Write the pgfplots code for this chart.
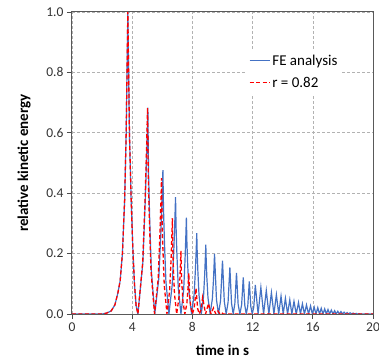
\documentclass[border=0pt]{standalone}
\usepackage{fontspec}
\setmainfont{Carlito}
\usepackage{pgfplots}
\pgfplotsset{compat=1.18}
\definecolor{feblue}{RGB}{68,114,196}
\definecolor{rred}{RGB}{255,0,0}
\begin{document}
\begin{tikzpicture}
\begin{axis}[name=ax,
  scale only axis, width=301bp, height=302bp,
  xmin=0, xmax=20, ymin=0, ymax=1,
  xtick={0,4,8,12,16,20},
  ytick={0,0.2,0.4,0.6,0.8,1.0},
  /pgf/number format/assume math mode=true,
  yticklabel style={/pgf/number format/.cd, fixed, fixed zerofill, precision=1},
  tick label style={font=\fontsize{13.5bp}{15bp}\selectfont, color=black!80},
  tick align=outside, tick pos=left,
  major tick length=5bp,
  tick style={black!70, line width=0.8bp},
  axis line style={black!65, line width=1bp},
  grid=major,
  major grid style={gray!60, dash pattern=on 3bp off 2bp, line width=0.6bp},
  xlabel={\textbf{time in s}},
  ylabel={\textbf{relative kinetic energy}},
  every axis x label/.style={at={(axis description cs:0.5,-0.119)}, anchor=center, font=\fontsize{15bp}{18bp}\selectfont},
  every axis y label/.style={at={(axis description cs:-0.159,0.5)}, rotate=90, anchor=center, font=\fontsize{15bp}{18bp}\selectfont},
  legend style={at={(0.581,0.875)}, anchor=north west, draw=none, fill=white,
    font=\fontsize{15bp}{18bp}\selectfont, inner xsep=2bp, inner ysep=3bp, row sep=6bp},
  legend cell align=left,
  legend image code/.code={\draw[#1] (0bp,0bp) -- (20bp,0bp);},
]
\addplot[feblue, line width=1.2bp] coordinates {
(0,0)(2.0,0)(2.3,0.003)(2.6,0.01)(2.85,0.03)(3.05,0.07)(3.2,0.11)(3.35,0.2)(3.5,0.38)(3.6,0.6)(3.71,1.0)
(3.82,0.59)(3.93,0.38)(4.04,0.22)(4.15,0.1)(4.26,0.027)(4.38,0)
(4.71,0.171)(4.875,0.384)(4.974,0.553)(5.04,0.683)
(5.086,0.470)(5.155,0.326)(5.27,0.145)(5.50,0)
(5.77,0.119)(5.905,0.268)(5.986,0.386)(6.04,0.476)
(6.08,0.349)(6.14,0.242)(6.24,0.108)(6.44,0)
(6.66,0.097)(6.77,0.218)(6.836,0.313)(6.88,0.387)
(6.916,0.286)(6.97,0.199)(7.06,0.088)(7.24,0)
(7.42,0.080)(7.51,0.179)(7.564,0.258)(7.60,0.319)
(7.635,0.238)(7.686,0.165)(7.77,0.074)(7.945,0)
(8.12,0.067)(8.204,0.151)(8.256,0.217)(8.29,0.268)
(8.32,0.202)(8.365,0.140)(8.44,0.062)(8.59,0)
(8.74,0.058)(8.815,0.129)(8.86,0.186)(8.89,0.230)
(8.92,0.174)(8.96,0.121)(9.035,0.054)(9.18,0)
(9.325,0.050)(9.40,0.112)(9.44,0.161)(9.47,0.199)
(9.60,0.047)(9.735,0)
(9.87,0.044)(10.00,0.177)
(10.12,0.041)(10.245,0)
(10.37,0.0385)(10.49,0.154)
(10.60,0.036)(10.71,0)
(10.82,0.034)(10.93,0.136)
(11.04,0.032)(11.155,0)
(11.27,0.030)(11.38,0.121)
(11.48,0.029)(11.58,0)
(11.68,0.027)(11.78,0.108)
(11.88,0.0255)(11.98,0)
(12.08,0.024)(12.18,0.096)
(12.365,0)(12.55,0.088)(12.73,0)(12.91,0.078)(13.08,0)(13.25,0.071)(13.415,0)(13.58,0.064)(13.735,0)(13.89,0.059)(14.035,0)(14.18,0.052)(14.325,0)(14.47,0.047)(14.61,0)(14.75,0.042)(14.90,0)(15.05,0.038)(15.18,0)(15.31,0.034)(15.445,0)(15.58,0.030)(15.715,0)(15.85,0.027)(15.97,0)(16.09,0.023)(16.21,0)(16.33,0.021)(16.445,0)(16.56,0.019)(16.675,0)(16.79,0.017)(16.90,0)(17.01,0.015)(17.12,0)(17.23,0.013)(17.34,0)(17.45,0.011)(17.555,0)(17.66,0.009)(17.765,0)(17.87,0.008)(17.975,0)(18.08,0.006)(18.18,0)(18.28,0.005)(18.38,0)(18.48,0.004)(18.58,0)(18.68,0.003)(18.78,0)(18.88,0.002)(18.98,0)(19.08,0.001)(19.18,0)(20,0)
};
\addlegendentry{FE analysis}
\addplot[rred, line width=1.3bp, dash pattern=on 4bp off 2.5bp] coordinates {
(0,0)(2.0,0)(2.3,0.003)(2.6,0.01)(2.85,0.03)(3.05,0.07)(3.2,0.11)(3.35,0.2)(3.5,0.38)(3.6,0.6)(3.71,1.0)
(3.82,0.59)(3.93,0.38)(4.04,0.22)(4.15,0.1)(4.26,0.027)(4.38,0)
(4.70,0.171)(4.86,0.384)(4.956,0.553)(5.02,0.683)
(5.067,0.459)(5.136,0.319)(5.25,0.142)(5.485,0)
(5.72,0.113)(5.834,0.253)(5.90,0.365)(5.95,0.45)
(5.986,0.311)(6.04,0.216)(6.13,0.096)(6.31,0)
(6.49,0.079)(6.58,0.178)(6.634,0.257)(6.67,0.317)
(6.70,0.213)(6.74,0.148)(6.81,0.066)(6.955,0)
(7.10,0.052)(7.17,0.118)(7.21,0.169)(7.24,0.209)
(7.266,0.139)(7.305,0.097)(7.37,0.043)(7.50,0)
(7.63,0.034)(7.695,0.076)(7.734,0.109)(7.76,0.135)
(7.82,0.062)(7.88,0.0275)(8.00,0)
(8.12,0.021)(8.18,0.048)(8.24,0.085)
(8.35,0.0175)(8.46,0)
(8.57,0.014)(8.68,0.055)
(8.875,0)(9.07,0.035)(9.235,0)(9.40,0.02)(9.55,0)(9.70,0.01)(9.83,0)(9.95,0.004)(10.06,0)(20,0)
};
\addlegendentry{r = 0.82}
\end{axis}
\pgfresetboundingbox
\path ([xshift=-72bp,yshift=-44bp]ax.south west) rectangle ([xshift=6bp,yshift=12bp]ax.north east);
\end{tikzpicture}
\end{document}
